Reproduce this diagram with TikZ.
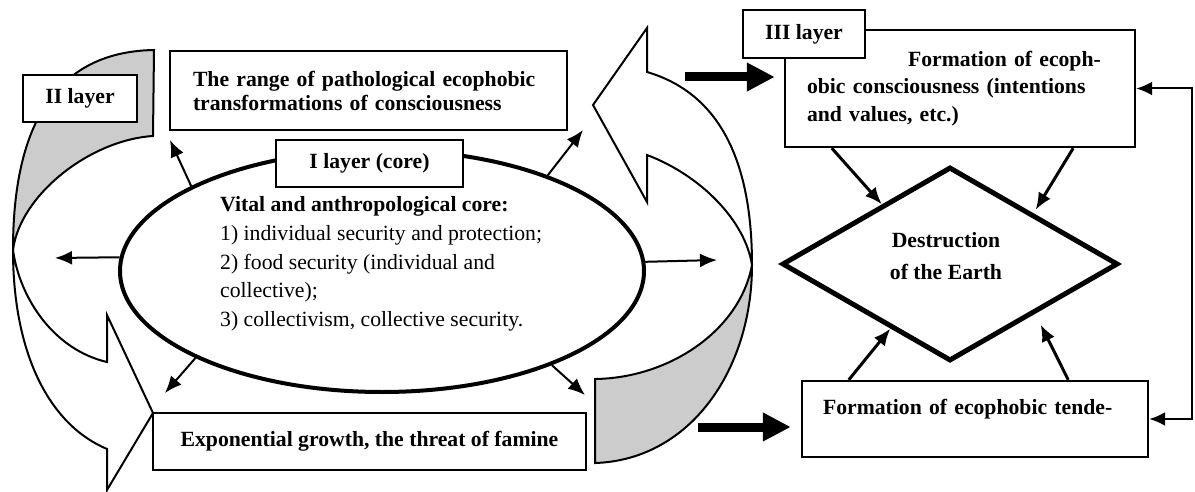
\documentclass[tikz,border=0pt]{standalone}
\usepackage{fontspec}
\setmainfont{Liberation Serif}
\usetikzlibrary{arrows.meta,positioning,shapes.geometric,calc}

\tikzset{
  box/.style={draw, line width=2.4pt, fill=white, inner sep=0pt, font=\fontsize{21.7}{24}\selectfont\bfseries},
  tagbox/.style={draw, line width=1.6pt, fill=white, inner sep=0pt, font=\fontsize{21.7}{24}\selectfont\bfseries},
  band/.style={draw, line width=2pt},
  ray/.style={line width=2pt, -{Latex[length=17pt,width=14pt]}},
  hit/.style={line width=3pt, -{Latex[length=17pt,width=14pt]}},
  block/.style={line width=9pt, -{Triangle[length=28pt,width=27pt]}},
}

\begin{document}
\begin{tikzpicture}[x=1pt,y=-1pt]
  \useasboundingbox (0,0) rectangle (1195,492);
  % Left band (II layer), grey tail on top, head at the bottom
  \filldraw[band, fill=gray!40] (154,50) .. controls (40,52) and (13,150) .. (13,250)
    .. controls (20,195) and (90,140) .. (153,136) -- cycle;
  \draw[band] (13,250) .. controls (13,355) and (50,425) .. (107,449) -- (107,490) -- (153,413)
    -- (107,315) -- (107,362) .. controls (55,350) and (20,300) .. (13,250);
  % Right band, head on top, grey tail at the bottom
  \draw[band, fill=white] (647,72) .. controls (725,95) and (752,170) .. (752,265)
    .. controls (745,220) and (700,175) .. (647,155) -- (647,202) -- (593,105) -- (647,28) -- cycle;
  \filldraw[band, fill=gray!40] (752,265) .. controls (752,370) and (690,460) .. (595,463)
    -- (595,379) .. controls (670,378) and (740,330) .. (752,265);

  % Core (I layer)
  \node[draw, ellipse, line width=4pt, minimum width=524pt, minimum height=242pt, inner sep=0pt] (core) at (382,271) {};
  \node[anchor=west, inner sep=0pt, align=left, font=\fontsize{21.7}{28.7}\selectfont] (coretext) at (220,264)
    {\textbf{Vital and anthropological core:}\\1) individual security and protection;\\2) food security (individual and\\collective);\\3) collectivism, collective security.};
  \node[tagbox, minimum width=187pt, minimum height=47pt] (layer1) at (369.5,163.5) {I layer (core)};

  % II layer boxes
  \node[box, minimum width=397pt, minimum height=79pt, text width=351pt, align=left] (range) at (368.5,90.5)
    {The range of pathological ecophobic\\transformations of consciousness};
  \node[box, minimum width=433pt, minimum height=57pt] (expo) at (369.5,441.5) {Exponential growth, the threat of famine};
  \node[tagbox, minimum width=114pt, minimum height=47pt] (layer2) at (80,98.5) {II layer};

  % rays out of the core
  \coordinate (r1) at (170,140);
  \coordinate (r2) at (55,258);
  \coordinate (r3) at (165,393);
  \coordinate (r4) at (585,395);
  \coordinate (r5) at (717,260);
  \coordinate (r6) at (583,130);
  \foreach \a/\p in {156/r1, 177/r2, 205/r3, 331/r4, 2/r5, 30/r6} {
    \draw[ray] (core.\a) -- (\p);
  }

  % III layer
  \node[box, font=\fontsize{21.7}{27.5}\selectfont\bfseries, minimum width=350pt, minimum height=117pt, text width=306pt, align=left] (form) at (960,88.5)
    {\hspace*{101pt}Formation of ecoph-\\obic consciousness (intentions\\and values, etc.)};
  \node[tagbox, minimum width=122pt, minimum height=48pt] (layer3) at (804,34) {III layer};
  \node[draw, diamond, line width=5pt, minimum width=336pt, minimum height=194pt, inner sep=0pt] (earth) at (950,264) {};
  \node[align=center, inner sep=0pt, font=\fontsize{21.7}{32}\selectfont\bfseries] (earthtext) at (946,256) {Destruction\\of the Earth};
  \node[box, minimum width=346pt, minimum height=76pt, text width=304pt, align=left] (tend) at (975,419)
    {Formation of ecophobic tende-\\~};

  % arrows into the diamond
  \draw[hit] ([xshift=48pt]form.south west) -- ($(earth.west)!0.6!(earth.north)$);
  \draw[hit, shorten >=4pt] ([xshift=-63pt]form.south east) -- ($(earth.north)!0.49!(earth.east)$);
  \draw[hit] ([xshift=48pt]tend.north west) -- ($(earth.west)!0.65!(earth.south)$);
  \draw[hit, shorten >=12pt] ([xshift=-81pt]tend.north east) -- ($(earth.south)!0.5!(earth.east)$);

  % feedback on the right
  \coordinate (loop) at (1192,250);
  \draw[line width=2pt, {Latex[length=16pt,width=14pt]}-{Latex[length=16pt,width=14pt]}]
    (form.east) -- (form.east -| loop) -- (tend.east -| loop) -- (tend.east);

  % thick block arrows
  \coordinate (b1) at (685,77);
  \coordinate (b2) at (698,427);
  \draw[block, shorten >=9pt] (b1) -- (b1 -| form.west);
  \draw[block, shorten >=10pt] (b2) -- (b2 -| tend.west);
\end{tikzpicture}
\end{document}
